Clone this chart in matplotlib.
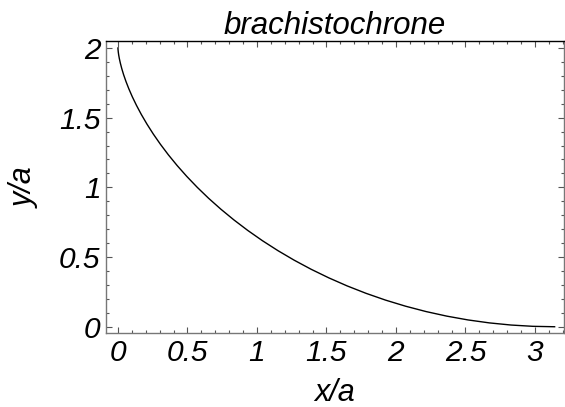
import matplotlib
matplotlib.use("Agg")
import matplotlib.pyplot as plt
from matplotlib.ticker import FixedLocator, MultipleLocator

# Data (brachistochrone curve)
x_vals = [0.0, 0.0001, 0.0007, 0.0022, 0.0051, 0.0100, 0.0173, 0.0273, 0.0405,
          0.0574, 0.0783, 0.1035, 0.1335, 0.1684, 0.2086, 0.2542, 0.3056,
          0.3628, 0.4260, 0.4953, 0.5708, 0.6524, 0.7402, 0.8341, 0.9339,
          1.0396, 1.1510, 1.2679, 1.3901, 1.5173, 1.6491, 1.7853, 1.9255,
          2.0693, 2.2164, 2.3662, 2.5184, 2.6725, 2.8281, 2.9846, 3.1416]
y_vals = [2.0, 1.9969, 1.9877, 1.9724, 1.9511, 1.9239, 1.8910, 1.8526, 1.8090,
          1.7604, 1.7071, 1.6494, 1.5878, 1.5225, 1.4540, 1.3827, 1.3090,
          1.2334, 1.1564, 1.0785, 1.0, 0.9215, 0.8436, 0.7666, 0.6910,
          0.6173, 0.5460, 0.4775, 0.4122, 0.3506, 0.2929, 0.2396, 0.1910,
          0.1474, 0.1090, 0.0761, 0.0489, 0.0276, 0.0123, 0.0031, 0.0]

x_ticks = [0, 0.5, 1, 1.5, 2, 2.5, 3]
x_tick_labels = ["0", "0.5", "1", "1.5", "2", "2.5", "3"]
y_ticks = [0, 0.5, 1, 1.5, 2]
y_tick_labels = ["0", "0.5", "1", "1.5", "2"]

plt.rcParams['font.family'] = ['Liberation Sans', 'DejaVu Sans']

fig = plt.figure(figsize=(5.65, 4.07), dpi=100)
W, H = 565, 407
left, right, top, bottom = 106, 564, 41.3, 333.3
ax = fig.add_axes([left / W, 1 - bottom / H, (right - left) / W, (bottom - top) / H])

ax.plot(x_vals, y_vals, color='black', linewidth=1.0)

ax.set_xlim(-0.086, 3.209)
ax.set_ylim(-0.047, 2.048)

ax.xaxis.set_major_locator(FixedLocator(x_ticks))
ax.set_xticklabels(x_tick_labels)
ax.yaxis.set_major_locator(FixedLocator(y_ticks))
ax.set_yticklabels(y_tick_labels)
ax.xaxis.set_minor_locator(MultipleLocator(0.1))
ax.yaxis.set_minor_locator(MultipleLocator(0.1))

ax.tick_params(which='both', direction='in', top=True, right=True,
               color='#555555', width=0.8)
ax.tick_params(which='major', length=4.5, labelsize=21.5, pad=4)
ax.tick_params(which='minor', length=2.5)
for lab in ax.get_xticklabels() + ax.get_yticklabels():
    lab.set_fontstyle('italic')

ax.spines['left'].set_color('#777777')
ax.spines['bottom'].set_color('#777777')
ax.spines['right'].set_color('#777777')
ax.spines['top'].set_color('black')
for s in ax.spines.values():
    s.set_linewidth(1.0)

ax.set_title('brachistochrone', fontsize=22.5, fontstyle='italic', pad=0)
ax.set_xlabel('x/a', fontsize=22, fontstyle='italic', labelpad=8)
ax.set_ylabel('y/a', fontsize=22, fontstyle='italic', labelpad=14)

fig.savefig('out.png', dpi=100)
